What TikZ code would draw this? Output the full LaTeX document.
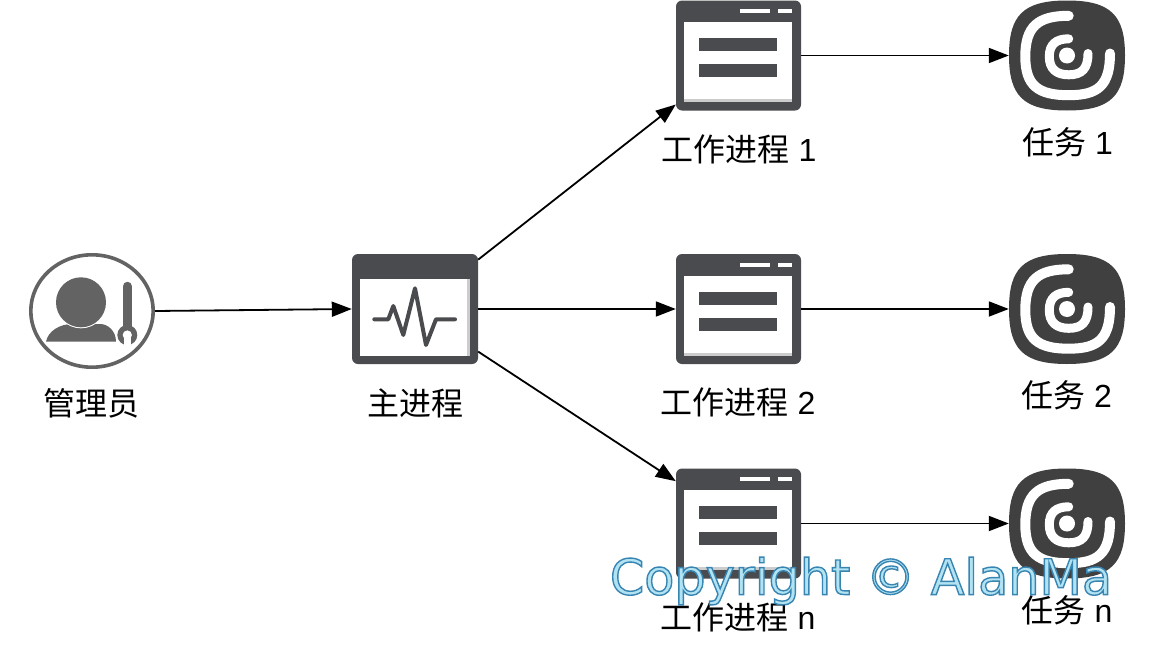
\documentclass[tikz,border=0pt]{standalone}
\usepackage{fontspec}
\setmainfont{Liberation Sans}
\newfontfamily\cjk{Noto Sans CJK SC}
\newfontfamily\wmfont{DejaVu Sans}
\usetikzlibrary{arrows.meta,shapes.geometric}
\definecolor{win}{HTML}{4A4B4F}
\definecolor{taskc}{HTML}{404040}
\definecolor{admc}{HTML}{636363}
\tikzset{
  x=1pt,y=-1pt,
  winnode/.style={rectangle,rounded corners=6pt,fill=win,inner sep=0,minimum width=125pt,minimum height=110pt},
  mainnode/.style={rectangle,rounded corners=6pt,fill=win,inner sep=0,minimum width=126pt,minimum height=110pt},
  tasknode/.style={rectangle,inner sep=0,minimum width=116pt,minimum height=110pt},
  adminnode/.style={ellipse,inner sep=0,minimum width=122.4pt,minimum height=112.4pt,draw=admc,line width=3.6pt,fill=white},
  label/.style={inner sep=0,font=\fontsize{32pt}{35pt}\selectfont,text=black},
  conn/.style={draw=black,line width=1.8pt,-{Triangle[length=20pt,width=15pt]}},
  pics/workerwin/.style={code={
    \fill[white] (-54.5,-33.5) rectangle (53.5,46.5);
    \fill[black!20] (-54.5,43.5) rectangle (53.5,46.5);
    \fill[win] (-39.5,-17.5) rectangle (38.5,-4.5);
    \fill[win] (-39.5,8.5) rectangle (38.5,21.5);
    \fill[white] (1.5,-46.5) rectangle (31.5,-42.5);
    \fill[white] (39.5,-46.5) rectangle (53.5,-42.5);
  }},
  pics/mainwin/.style={code={
    \fill[white] (-55,-30) rectangle (55,47);
    \fill[black!20] (52,-30) rectangle (55,47);
    \draw[win,line width=4pt,line cap=round,line join=round]
      (-40.7,10.3) -- (-26.7,10.3) -- (-21.7,-3) -- (-11.7,26) -- (0,-20.7) -- (11,36) -- (21,10.3) -- (40,10.3);
  }},
  pics/taskicon/.style={code={
    \fill[taskc] (0,-55) .. controls (44,-55) and (58,-40) .. (58,0)
      .. controls (58,40) and (44,55) .. (0,55)
      .. controls (-44,55) and (-58,40) .. (-58,0)
      .. controls (-58,-40) and (-44,-55) .. (0,-55) -- cycle;
    \fill[white] (0,0) circle (8);
    \draw[white,line width=9pt,line cap=round]
      (1.7,-16.7) .. controls (-11,-16.7) and (-17.7,-11) .. (-17.7,1)
      .. controls (-17.7,13) and (-11,19.3) .. (1.7,19.3)
      .. controls (15,19.3) and (21,13) .. (21,-2);
    \draw[white,line width=10pt,line cap=round]
      (1.7,-39.7) .. controls (-29,-39.7) and (-41.7,-29) .. (-41.7,1)
      .. controls (-41.7,30) and (-29,39.7) .. (1.7,39.7)
      .. controls (31,39.7) and (43,30) .. (43,-2);
  }},
  pics/admicon/.style={code={
    \fill[admc] (-46,30.7) .. controls (-44,20) and (-32,13) .. (-20,13)
      -- (8,13) .. controls (16,13) and (24,20) .. (24,30.7) -- cycle;
    \fill[white] (-11,-8.7) circle (26);
    \fill[admc] (-11,-8.7) circle (25);
    \draw[admc,line width=9.3pt,line cap=round] (35.3,-24.6) -- (35.3,20);
    \fill[admc] (35.3,24) circle (10);
    \fill[white] (35.3,24) circle (4.6);
    \fill[white] (31.6,24) rectangle (39,35);
  }}
}
\newcommand{\outlined}[1]{\special{pdf:code q 2 Tr 1.4 w 0.22 0.52 0.70 RG 0.70 0.89 0.95 rg}#1\special{pdf:code Q}}
\begin{document}
\begin{tikzpicture}
\useasboundingbox (0,0) rectangle (1160,648);
\fill[white] (0,0) rectangle (1160,648);

\node[adminnode] (admin) at (92,311) {};
\pic at (admin) {admicon};
\node[mainnode] (main) at (415,309) {};
\pic at (main) {mainwin};
\node[winnode] (w1) at (738.5,55.5) {};
\node[winnode] (w2) at (738.5,309) {};
\node[winnode] (wn) at (738.5,523.5) {};
\pic at (w1) {workerwin};
\pic at (w2) {workerwin};
\pic at (wn) {workerwin};
\node[tasknode] (t1) at (1067,55.5) {};
\node[tasknode] (t2) at (1067,309) {};
\node[tasknode] (tn) at (1067,523.5) {};
\pic at (t1) {taskicon};
\pic at (t2) {taskicon};
\pic at (tn) {taskicon};

\path[conn] (admin.east) -- (main.west);
\path[conn] (main.38) -- (w1.218);
\path[conn] (main.east) -- (w2.west);
\path[conn] (main.-34) -- (wn.146.4);
\path[conn] (w1.east) -- (t1.west);
\path[conn] (w2.east) -- (t2.west);
\path[conn] (wn.east) -- (tn.west);

\node[label] (ladmin) at (91.5,403) {\cjk 管理员};
\node[label] (lmain) at (415,403) {\cjk 主进程};
\node[label] (lw1) at (739,149) {{\cjk 工作进程} 1};
\node[label] (lw2) at (738,402) {{\cjk 工作进程} 2};
\node[label] (lwn) at (738,617) {{\cjk 工作进程} n};
\node[label] (lt1) at (1067.5,142) {{\cjk 任务} 1};
\node[label] (lt2) at (1066.5,395) {{\cjk 任务} 2};
\node[label] (ltn) at (1067,610) {{\cjk 任务} n};

\node[inner sep=0,font=\wmfont\fontsize{49.2pt}{54pt}\selectfont] (wm) at (861,581) {\outlined{Copyright © AlanMa}};
\end{tikzpicture}
\end{document}
